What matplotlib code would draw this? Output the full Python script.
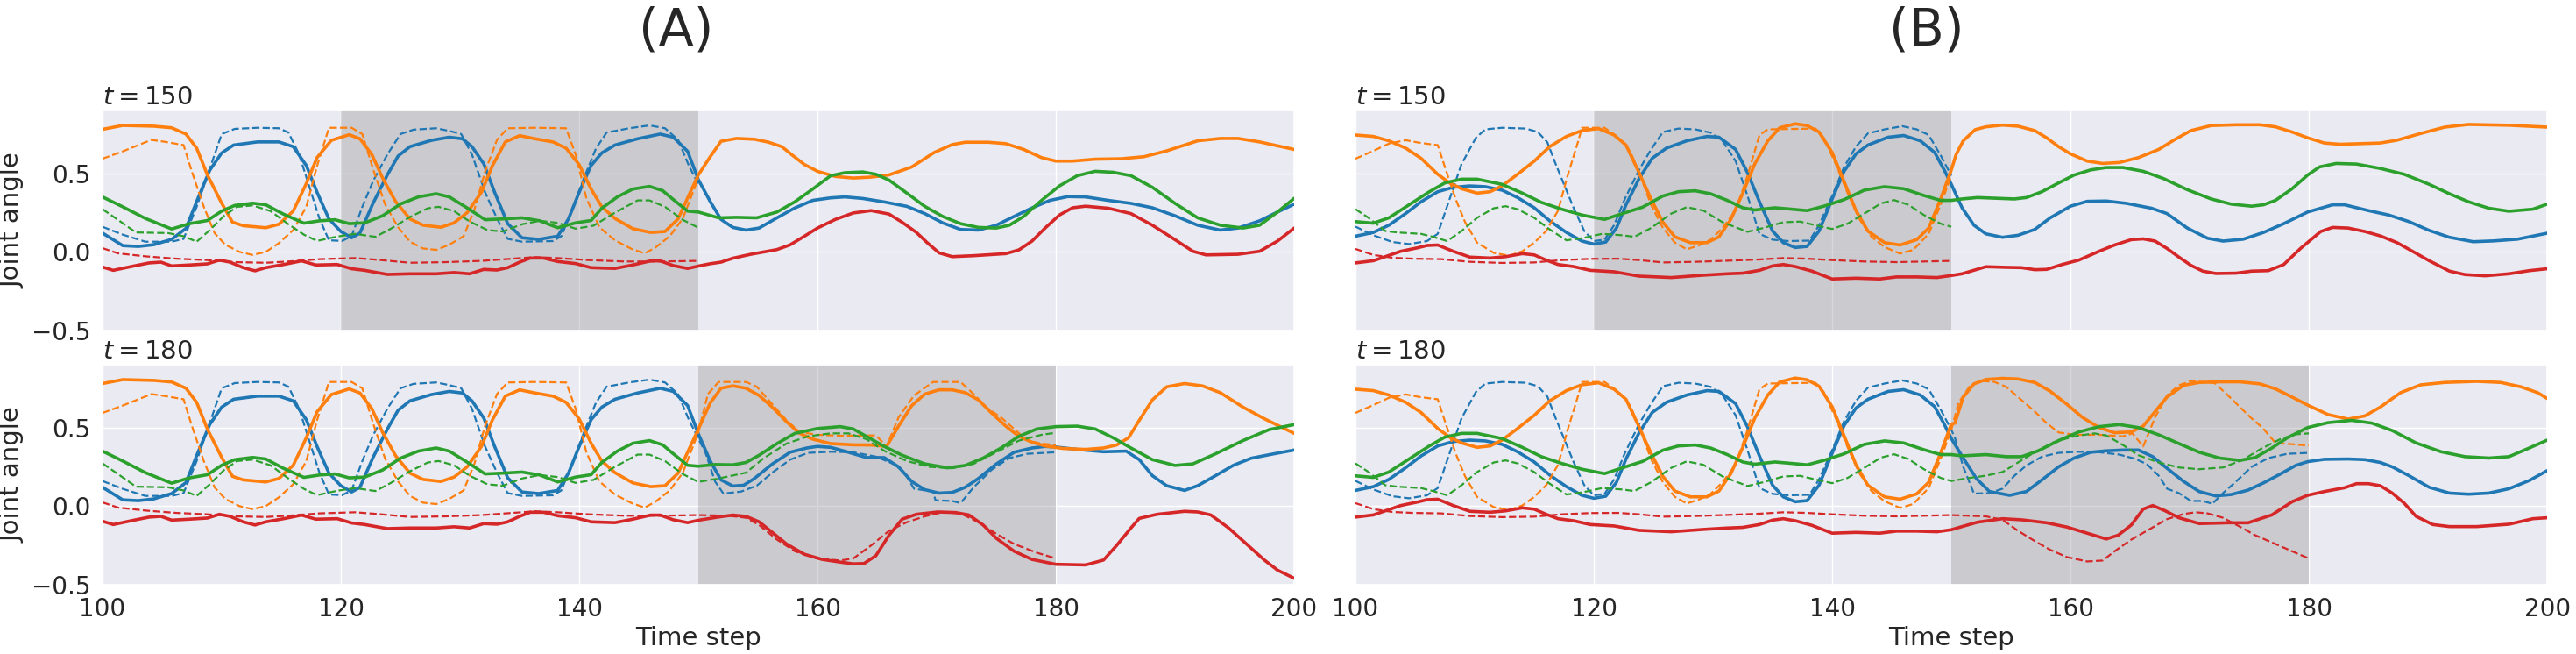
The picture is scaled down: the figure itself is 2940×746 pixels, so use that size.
import numpy as np
import matplotlib
matplotlib.use("Agg")
import matplotlib.pyplot as plt  # noqa: E402
import seaborn as sns  # noqa: E402

sns.set_theme(style="darkgrid")
plt.rcParams["font.family"] = ["DejaVu Sans"]

JOINT_COLORS = ["tab:blue", "tab:orange", "tab:green", "tab:red"]

# ---- panel A: shared observed history (100..150) ----
A_HIST_BLUE = [(100, 0.12), (101.7, 0.04), (103, 0.035), (104.3, 0.046), (105.8, 0.08), (107, 0.15), (108, 0.34),
               (109, 0.52), (110, 0.63), (111, 0.68), (113, 0.70), (114.8, 0.70), (116, 0.67), (117.1, 0.55),
               (118, 0.38), (119, 0.21), (120, 0.13), (120.9, 0.09), (121.6, 0.12), (122.7, 0.31), (123.9, 0.49),
               (124.8, 0.61), (125.8, 0.67), (127.6, 0.71), (129.1, 0.73), (130.2, 0.72), (131, 0.67), (132, 0.56),
               (132.9, 0.38), (134, 0.18), (135.2, 0.09), (136.6, 0.08), (138.2, 0.10), (139.1, 0.21), (140, 0.38),
               (141, 0.55), (141.9, 0.63), (143, 0.68), (144.9, 0.72), (146.8, 0.75), (147.9, 0.73), (149.1, 0.64),
               (150, 0.46)]
A_HIST_ORANGE = [(100, 0.78), (101.7, 0.805), (104.3, 0.80), (105.8, 0.79), (107, 0.75), (107.9, 0.66), (108.8, 0.49),
                 (110, 0.31), (110.9, 0.19), (111.8, 0.167), (113.7, 0.154), (114.8, 0.176), (116, 0.26),
                 (117.1, 0.435), (118, 0.60), (119.2, 0.71), (120.7, 0.746), (121.6, 0.72), (122.6, 0.62),
                 (123.5, 0.47), (124.6, 0.32), (125.8, 0.21), (126.9, 0.17), (128.4, 0.157), (129.5, 0.185),
                 (130.6, 0.25), (131.8, 0.38), (132.7, 0.546), (133.8, 0.70), (135, 0.74), (136.3, 0.72),
                 (137.8, 0.70), (138.9, 0.66), (140, 0.555), (141, 0.40), (141.9, 0.287), (143, 0.213),
                 (144.5, 0.148), (146, 0.124), (147.2, 0.13), (148.3, 0.21), (149.2, 0.36), (150, 0.49)]
A_HIST_GREEN = [(100, 0.35), (101.7, 0.287), (103.6, 0.213), (105.8, 0.146), (107.3, 0.18), (108.8, 0.20), (110, 0.26),
                (111.1, 0.296), (112.6, 0.31), (113.7, 0.30), (115.2, 0.24), (116.9, 0.183), (118.2, 0.198),
                (119.5, 0.205), (120.7, 0.18), (122, 0.185), (123.5, 0.23), (125, 0.305), (126.5, 0.35), (128, 0.37),
                (129.1, 0.35), (130.6, 0.28), (132.1, 0.205), (133.6, 0.21), (135.2, 0.217), (136.7, 0.198),
                (138.2, 0.154), (139.7, 0.185), (141, 0.20), (141.9, 0.278), (143.2, 0.35), (144.5, 0.40),
                (145.9, 0.417), (147, 0.39), (147.9, 0.333), (149.1, 0.26), (150, 0.254)]
A_HIST_RED = [(100, -0.096), (100.9, -0.117), (102.4, -0.093), (103.9, -0.07), (104.9, -0.065), (105.8, -0.089),
              (107.3, -0.083), (108.8, -0.076), (109.8, -0.052), (110.7, -0.065), (111.8, -0.10), (112.8, -0.12),
              (113.7, -0.10), (115.2, -0.08), (116.7, -0.057), (117.9, -0.083), (119.7, -0.08), (120.9, -0.107),
              (122, -0.117), (123.9, -0.143), (125.8, -0.139), (128, -0.139), (129.5, -0.131), (130.8, -0.139),
              (132, -0.111), (133.1, -0.115), (134, -0.10), (135, -0.065), (135.9, -0.039), (137, -0.039),
              (138.2, -0.061), (139.7, -0.074), (141, -0.10), (143, -0.105), (144.5, -0.083), (146, -0.057),
              (146.8, -0.057), (147.9, -0.087), (149.1, -0.105), (150, -0.09)]

# ---- panel A: target (dashed), 100..180 ----
A_TGT_BLUE = [(100, 0.16), (101.7, 0.11), (103.6, 0.065), (105.8, 0.065), (106.8, 0.083), (107.9, 0.287), (109, 0.53),
              (110, 0.75), (111.1, 0.783), (113, 0.79), (114.8, 0.787), (115.6, 0.76), (116.5, 0.62), (117.5, 0.38),
              (118.2, 0.213), (119, 0.074), (120.1, 0.07), (120.9, 0.10), (121.8, 0.287), (122.7, 0.45),
              (123.9, 0.62), (125, 0.75), (126.1, 0.778), (128, 0.787), (129.1, 0.77), (130.1, 0.75), (131, 0.62),
              (132.1, 0.38), (133.1, 0.213), (134, 0.083), (135.2, 0.065), (137.8, 0.069), (138.5, 0.10),
              (139.5, 0.287), (140.4, 0.47), (141.4, 0.657), (142.3, 0.76), (144.2, 0.787), (145.9, 0.805),
              (147.2, 0.787), (148.3, 0.713), (149.2, 0.55), (150, 0.43), (150.6, 0.34), (151.4, 0.157),
              (152.1, 0.08), (153.6, 0.093), (154.9, 0.13), (156.2, 0.213), (157.7, 0.296), (159.2, 0.339),
              (161.1, 0.346), (163, 0.343), (164.9, 0.315), (166.4, 0.268), (167.3, 0.213), (168.1, 0.111),
              (169.7, 0.093), (169.9, 0.037), (171.3, 0.033), (172, 0.019), (173.1, 0.12), (174.6, 0.231),
              (176.1, 0.306), (177.6, 0.333), (180, 0.343)]
A_TGT_ORANGE = [(100, 0.593), (101.7, 0.64), (104.1, 0.713), (105.3, 0.70), (106.8, 0.68), (107.5, 0.51),
                (108.5, 0.287), (109.4, 0.12), (110.3, 0.046), (111.5, 0.0), (112.6, -0.019), (113.7, 0.0),
                (114.8, 0.056), (116, 0.139), (117.1, 0.287), (118, 0.546), (119, 0.79), (120.9, 0.79), (121.8, 0.75),
                (122.7, 0.528), (123.7, 0.305), (124.8, 0.157), (125.8, 0.065), (126.9, 0.022), (128, 0.013),
                (129.1, 0.046), (130.3, 0.10), (131.2, 0.268), (132.1, 0.51), (133.1, 0.713), (134, 0.787),
                (136.3, 0.79), (138.9, 0.787), (139.7, 0.62), (140.6, 0.343), (141.7, 0.157), (143, 0.074),
                (144.4, 0.019), (145.5, -0.009), (146.4, 0.028), (147.6, 0.10), (148.7, 0.213), (150, 0.47),
                (150.8, 0.713), (151.7, 0.79), (154, 0.79), (154.9, 0.76), (156.1, 0.657), (157.4, 0.546),
                (158.5, 0.472), (160, 0.454), (161.9, 0.448), (164.9, 0.45), (165.8, 0.38), (166.8, 0.565),
                (168.1, 0.704), (169.7, 0.79), (172, 0.79), (173.1, 0.713), (174.3, 0.62), (175.4, 0.565),
                (176.5, 0.491), (177.6, 0.417), (178.8, 0.398), (180, 0.389)]
A_TGT_GREEN = [(100, 0.272), (101.3, 0.204), (102.8, 0.124), (105.5, 0.12), (106.8, 0.10), (107.9, 0.065),
               (109, 0.139), (110.2, 0.23), (111.3, 0.287), (112.6, 0.296), (114.1, 0.26), (115.6, 0.176),
               (116.9, 0.11), (118, 0.07), (119.7, 0.098), (121.2, 0.115), (122.9, 0.096), (124.2, 0.148),
               (125.8, 0.222), (127.3, 0.278), (128.2, 0.287), (129.5, 0.26), (130.8, 0.194), (132.3, 0.139),
               (133.6, 0.13), (135.2, 0.176), (136.7, 0.198), (138.2, 0.185), (139.7, 0.148), (141.2, 0.167),
               (143, 0.25), (144.9, 0.328), (145.9, 0.328), (147.2, 0.287), (148.7, 0.204), (150, 0.154),
               (151.7, 0.176), (154, 0.213), (155.5, 0.306), (157.4, 0.398), (159.2, 0.444), (161.1, 0.463),
               (162.6, 0.463), (164.1, 0.426), (165.6, 0.352), (167.5, 0.287), (169.4, 0.25), (171.3, 0.241),
               (173.1, 0.269), (175, 0.343), (176.9, 0.417), (178.8, 0.454), (180, 0.467)]
A_TGT_RED = [(100, 0.024), (101.3, -0.009), (103.6, -0.028), (106.2, -0.043), (108.8, -0.052), (111.1, -0.065),
             (113.7, -0.069), (115.6, -0.061), (118.2, -0.046), (121.2, -0.039), (123.1, -0.05), (125.8, -0.069),
             (128.8, -0.065), (131.8, -0.057), (134.4, -0.043), (136.3, -0.033), (138.2, -0.039), (140.8, -0.052),
             (143.8, -0.061), (146.8, -0.061), (150, -0.057), (152.5, -0.061), (154, -0.074), (155.1, -0.12),
             (156.6, -0.213), (158.1, -0.287), (160, -0.333), (161.9, -0.346), (163, -0.333), (164.5, -0.25),
             (166, -0.157), (167.5, -0.102), (169, -0.065), (170.5, -0.039), (172, -0.046), (173.5, -0.102),
             (175, -0.176), (176.5, -0.241), (178.4, -0.296), (180, -0.333)]

# ---- panel A: generated continuation after t=150 ----
A_P150_BLUE = [(151, 0.32), (151.9, 0.207), (152.9, 0.156), (154, 0.139), (155.1, 0.152), (156.6, 0.217),
               (158.1, 0.28), (159.6, 0.328), (161.1, 0.344), (162.3, 0.35), (163.8, 0.34), (165.6, 0.318),
               (167.5, 0.29), (169, 0.244), (170.5, 0.185), (172, 0.143), (173.5, 0.139), (175, 0.17), (176.5, 0.226),
               (178, 0.28), (179.5, 0.328), (181, 0.352), (182.5, 0.35), (184.4, 0.328), (186.3, 0.309),
               (188.1, 0.281), (190, 0.23), (191.9, 0.17), (193.8, 0.139), (195.3, 0.152), (197.1, 0.198),
               (198.6, 0.254), (200, 0.304)]
A_P150_ORANGE = [(151, 0.606), (151.9, 0.704), (153.2, 0.722), (154.7, 0.717), (155.9, 0.698), (157, 0.67),
                 (157.9, 0.615), (158.9, 0.556), (160, 0.513), (161.5, 0.48), (163, 0.47), (164.5, 0.476), (166, 0.49),
                 (167.9, 0.54), (169.8, 0.633), (171.3, 0.683), (172.4, 0.698), (174.3, 0.698), (175.8, 0.689),
                 (177.3, 0.652), (178.8, 0.60), (180, 0.578), (181.4, 0.578), (183.3, 0.59), (185.5, 0.593),
                 (187.4, 0.606), (189.3, 0.643), (191.9, 0.707), (193.8, 0.722), (195.3, 0.722), (197.1, 0.70),
                 (200, 0.652)]
A_P150_GREEN = [(151.7, 0.217), (153.2, 0.22), (154.9, 0.217), (156.6, 0.254), (158.1, 0.319), (159.6, 0.40),
                (161.1, 0.485), (162.3, 0.504), (163.8, 0.509), (164.9, 0.494), (166, 0.457), (167.5, 0.374),
                (169, 0.29), (170.5, 0.226), (172, 0.18), (173.5, 0.156), (175, 0.152), (176.1, 0.17), (177.3, 0.226),
                (178.8, 0.328), (180.3, 0.42), (181.8, 0.485), (183.3, 0.513), (184.8, 0.507), (186.3, 0.485),
                (188.1, 0.411), (190, 0.309), (191.9, 0.217), (193.8, 0.17), (195.7, 0.152), (197.1, 0.17),
                (198.6, 0.254), (200, 0.341)]
A_P150_RED = [(151, -0.075), (151.9, -0.065), (152.9, -0.04), (154.4, -0.015), (156.6, 0.015), (157.7, 0.045),
              (158.9, 0.10), (160, 0.152), (161.5, 0.207), (163, 0.248), (164.5, 0.263), (166, 0.241), (167.1, 0.189),
              (168.3, 0.124), (169.2, 0.059), (170.2, -0.006), (171.3, -0.03), (173.1, -0.024), (175.8, -0.011),
              (176.9, 0.013), (178, 0.069), (179.1, 0.152), (180.3, 0.235), (181.4, 0.281), (182.5, 0.291),
              (184.4, 0.278), (186.3, 0.244), (188.1, 0.17), (190, 0.078), (191.5, 0.004), (192.6, -0.019),
              (195.3, -0.015), (197.1, 0.004), (198.6, 0.069), (200, 0.152)]

# ---- panel A: observed to 180, generated after ----
A_P180_BLUE = [(151, 0.287), (151.9, 0.167), (152.9, 0.128), (153.8, 0.133), (154.7, 0.176), (156.2, 0.268),
               (157.7, 0.343), (159.1, 0.37), (160, 0.38), (161.1, 0.374), (162.6, 0.343), (164.1, 0.309),
               (165.6, 0.309), (166.8, 0.25), (167.9, 0.157), (169, 0.105), (170.2, 0.083), (171.3, 0.087),
               (172.4, 0.12), (173.5, 0.176), (175, 0.268), (176.5, 0.343), (178, 0.37), (179.1, 0.38), (180, 0.376),
               (181.8, 0.361), (184, 0.346), (185.9, 0.35), (187, 0.296), (188.1, 0.194), (189.3, 0.13),
               (190.8, 0.10), (191.9, 0.13), (193.4, 0.194), (194.9, 0.26), (196.4, 0.305), (198.3, 0.333),
               (200, 0.357)]
A_P180_ORANGE = [(151, 0.657), (151.9, 0.75), (152.9, 0.765), (154, 0.75), (155.1, 0.704), (156.2, 0.63),
                 (157.4, 0.537), (158.5, 0.463), (159.6, 0.426), (161.1, 0.398), (163, 0.39), (164.5, 0.389),
                 (165.8, 0.38), (166.8, 0.509), (167.9, 0.639), (169, 0.713), (170.2, 0.74), (171.3, 0.74),
                 (172.4, 0.722), (173.5, 0.676), (174.6, 0.593), (175.8, 0.509), (176.9, 0.444), (178, 0.407),
                 (179.1, 0.383), (180.6, 0.367), (182.5, 0.361), (184, 0.37), (185.1, 0.389), (186.1, 0.435),
                 (187, 0.546), (188.1, 0.676), (189.3, 0.759), (190.8, 0.78), (192.3, 0.765), (193.8, 0.722),
                 (195.7, 0.63), (197.5, 0.556), (200, 0.463)]
A_P180_GREEN = [(151.4, 0.265), (152.9, 0.263), (154, 0.278), (155.1, 0.324), (156.6, 0.398), (158.1, 0.463),
                (160, 0.494), (161.9, 0.506), (163, 0.491), (164.1, 0.444), (165.6, 0.38), (167.1, 0.324),
                (169, 0.269), (170.9, 0.244), (172.4, 0.259), (173.9, 0.306), (175.4, 0.37), (176.9, 0.444),
                (178.4, 0.491), (180, 0.506), (181.8, 0.509), (183.3, 0.491), (184.8, 0.435), (186.3, 0.37),
                (188.1, 0.296), (190, 0.259), (191.5, 0.269), (193.4, 0.333), (195.7, 0.417), (197.9, 0.487),
                (200, 0.519)]
A_P180_RED = [(151.7, -0.069), (152.9, -0.057), (154, -0.065), (155.1, -0.10), (156.2, -0.167), (157.4, -0.241),
              (158.9, -0.306), (160.4, -0.339), (161.9, -0.356), (163, -0.367), (163.9, -0.365), (164.9, -0.315),
              (166, -0.185), (167.1, -0.083), (168.3, -0.052), (170.1, -0.037), (171.6, -0.041), (172.7, -0.056),
              (173.9, -0.12), (175, -0.204), (176.5, -0.287), (178, -0.339), (180, -0.37), (182.5, -0.374),
              (184, -0.343), (185.1, -0.25), (186.3, -0.139), (187, -0.078), (188.5, -0.052), (190.8, -0.033),
              (191.9, -0.037), (193, -0.056), (194.5, -0.139), (196, -0.241), (197.5, -0.343), (198.6, -0.407),
              (200, -0.459)]

# ---- panel B: shared observed history (100..150) ----
B_HIST_BLUE = [(100, 0.10), (101.5, 0.124), (102.8, 0.17), (104.2, 0.244), (105.5, 0.319), (106.9, 0.383),
               (108.2, 0.411), (109.6, 0.42), (110.9, 0.415), (112.3, 0.393), (113.6, 0.346), (115, 0.281),
               (116.3, 0.198), (117.7, 0.124), (119, 0.069), (120, 0.05), (121, 0.063), (121.9, 0.152), (122.7, 0.30),
               (123.8, 0.467), (124.9, 0.596), (126.1, 0.661), (127.8, 0.707), (129.5, 0.735), (130.5, 0.73),
               (131.9, 0.652), (132.9, 0.504), (133.9, 0.319), (135, 0.133), (135.9, 0.059), (136.9, 0.028),
               (137.9, 0.035), (138.9, 0.133), (140, 0.337), (141, 0.513), (142, 0.624), (143, 0.68), (144.7, 0.73),
               (146, 0.741), (147.4, 0.707), (148.6, 0.633), (149.4, 0.522), (150, 0.43)]
B_HIST_ORANGE = [(100, 0.744), (101.5, 0.735), (102.8, 0.707), (104.2, 0.661), (105.5, 0.596), (106.9, 0.494),
                 (107.9, 0.439), (108.9, 0.402), (110.2, 0.374), (111.3, 0.383), (112.3, 0.42), (113.6, 0.494),
                 (115, 0.578), (116.3, 0.67), (117.7, 0.735), (119, 0.772), (120.4, 0.785), (121.7, 0.744),
                 (122.7, 0.68), (123.8, 0.504), (124.8, 0.337), (125.8, 0.189), (126.8, 0.096), (128.1, 0.059),
                 (129.5, 0.059), (130.5, 0.096), (131.5, 0.207), (132.5, 0.374), (133.5, 0.559), (134.6, 0.707),
                 (135.6, 0.79), (136.9, 0.815), (137.9, 0.804), (138.9, 0.763), (140, 0.633), (141, 0.448),
                 (142, 0.263), (143, 0.133), (144.4, 0.059), (145.7, 0.044), (147.1, 0.078), (148.1, 0.152),
                 (149.1, 0.337), (150, 0.522)]
B_HIST_GREEN = [(100, 0.193), (101.5, 0.183), (102.8, 0.217), (104.5, 0.30), (106.2, 0.383), (107.5, 0.439),
                (108.9, 0.463), (110.2, 0.463), (112.3, 0.43), (114, 0.374), (115.6, 0.315), (117.3, 0.272),
                (119, 0.235), (120.9, 0.207), (122.4, 0.244), (124.1, 0.285), (125.8, 0.356), (127.1, 0.383),
                (128.5, 0.389), (129.8, 0.37), (131.2, 0.328), (132.5, 0.281), (133.5, 0.267), (135.2, 0.281),
                (136.6, 0.272), (137.9, 0.263), (139.3, 0.291), (141, 0.333), (142.7, 0.393), (144.4, 0.415),
                (146, 0.402), (147.7, 0.359), (149.1, 0.328), (150, 0.328)]
B_HIST_RED = [(100, -0.07), (101.5, -0.056), (102.5, -0.03), (103.8, 0.004), (105.2, 0.026), (106, 0.041),
              (106.9, 0.044), (108.2, 0.004), (109.6, -0.033), (111.3, -0.039), (112.6, -0.03), (114, -0.011),
              (115, -0.019), (116, -0.052), (117, -0.08), (118.3, -0.093), (119.7, -0.117), (121.7, -0.126),
              (123.8, -0.154), (126.5, -0.163), (129.2, -0.148), (131.2, -0.139), (132.5, -0.135), (133.9, -0.117),
              (135, -0.089), (135.9, -0.08), (136.9, -0.093), (138.3, -0.122), (140, -0.172), (142, -0.167),
              (144, -0.172), (145.4, -0.159), (147.1, -0.159), (148.8, -0.163), (150, -0.15)]

# ---- panel B: target (dashed), 100..180 ----
B_TGT_BLUE = [(100, 0.161), (101.5, 0.106), (103.1, 0.063), (104.5, 0.05), (106, 0.069), (106.9, 0.115),
              (107.9, 0.337), (108.9, 0.559), (110.1, 0.726), (110.9, 0.78), (112.3, 0.79), (114.3, 0.785),
              (115.3, 0.763), (116.1, 0.698), (116.8, 0.559), (117.5, 0.43), (118.3, 0.281), (119.2, 0.133),
              (120, 0.069), (120.9, 0.078), (121.7, 0.17), (122.6, 0.337), (123.8, 0.522), (124.8, 0.652),
              (125.8, 0.763), (127.1, 0.785), (128.5, 0.78), (129.8, 0.759), (130.8, 0.707), (131.9, 0.578),
              (132.9, 0.356), (133.9, 0.115), (135, 0.078), (136.3, 0.069), (138.1, 0.072), (138.9, 0.17),
              (140, 0.356), (141, 0.541), (142, 0.67), (143, 0.754), (144.4, 0.78), (145.9, 0.80), (147.1, 0.78),
              (148.1, 0.744), (149.1, 0.615), (150, 0.485), (150.3, 0.435), (151, 0.25), (151.9, 0.08),
              (153.2, 0.083), (154.3, 0.111), (155.3, 0.194), (156.3, 0.259), (157.6, 0.315), (159, 0.339),
              (160.7, 0.346), (162.4, 0.343), (164.1, 0.328), (165.4, 0.302), (166.4, 0.268), (167.4, 0.194),
              (168.1, 0.111), (169.1, 0.083), (170.1, 0.033), (171.1, 0.033), (171.9, 0.015), (172.8, 0.083),
              (173.9, 0.157), (175.2, 0.25), (176.6, 0.306), (178.2, 0.333), (180, 0.339)]
B_TGT_ORANGE = [(100, 0.593), (101.5, 0.643), (102.8, 0.689), (104.2, 0.711), (105.5, 0.693), (106.9, 0.68),
                (107.5, 0.541), (108.4, 0.337), (109.2, 0.189), (110.2, 0.059), (111.6, -0.006), (112.9, -0.024),
                (114, 0.004), (115, 0.059), (116, 0.133), (117, 0.263), (117.8, 0.485), (118.7, 0.707), (119, 0.79),
                (120.9, 0.79), (122.1, 0.726), (123.1, 0.633), (123.9, 0.485), (124.8, 0.30), (125.8, 0.152),
                (126.8, 0.059), (127.8, 0.017), (128.8, 0.041), (129.8, 0.078), (130.8, 0.152), (131.9, 0.263),
                (132.9, 0.485), (133.9, 0.744), (134.6, 0.78), (138.6, 0.785), (139.3, 0.726), (140.3, 0.559),
                (141.3, 0.374), (142.3, 0.207), (143.3, 0.096), (144.4, 0.031), (145.7, -0.011), (146.8, 0.013),
                (148.1, 0.115), (149.1, 0.30), (150, 0.485), (150.6, 0.657), (151.6, 0.769), (152.6, 0.796),
                (153.6, 0.791), (154.6, 0.759), (155.6, 0.694), (157, 0.602), (158, 0.528), (159, 0.469),
                (160.3, 0.454), (162.4, 0.454), (164.4, 0.444), (165.2, 0.463), (166.1, 0.38), (167.1, 0.565),
                (168.1, 0.704), (169.1, 0.769), (170.1, 0.796), (172.1, 0.783), (173.1, 0.713), (174.1, 0.639),
                (175.1, 0.565), (176.1, 0.50), (177.2, 0.402), (178.6, 0.394), (180, 0.385)]
B_TGT_GREEN = [(100, 0.272), (101.1, 0.217), (102.5, 0.133), (103.5, 0.124), (105.5, 0.115), (106.5, 0.096),
               (107.7, 0.069), (108.9, 0.133), (110.2, 0.217), (111.6, 0.278), (112.6, 0.291), (113.6, 0.272),
               (115, 0.217), (116.3, 0.143), (117.7, 0.074), (119, 0.087), (120.7, 0.115), (122.4, 0.106),
               (123.4, 0.096), (124.8, 0.152), (126.5, 0.244), (127.8, 0.285), (129.2, 0.263), (130.8, 0.189),
               (132.9, 0.128), (134.2, 0.152), (135.9, 0.189), (137.3, 0.193), (138.6, 0.17), (140, 0.146),
               (141.3, 0.18), (142.7, 0.244), (144.1, 0.309), (145.2, 0.33), (146.4, 0.30), (147.7, 0.235),
               (149.1, 0.18), (150, 0.16), (151.2, 0.176), (152.9, 0.194), (154.3, 0.217), (155.6, 0.278),
               (157, 0.343), (158.6, 0.407), (160.3, 0.444), (162, 0.463), (163, 0.45), (164.4, 0.389),
               (165.7, 0.324), (167.4, 0.278), (169.1, 0.246), (170.8, 0.235), (172.8, 0.246), (174.5, 0.296),
               (175.9, 0.361), (177.6, 0.426), (178.9, 0.457), (180, 0.463)]
B_TGT_RED = [(100, 0.019), (101.5, -0.019), (103.1, -0.037), (104.8, -0.043), (107.2, -0.046), (109.6, -0.063),
             (112.3, -0.07), (115, -0.067), (117.3, -0.052), (119.7, -0.044), (122.1, -0.043), (123.8, -0.052),
             (125.8, -0.067), (128.5, -0.063), (131.2, -0.056), (133.9, -0.048), (135.9, -0.039), (137.9, -0.043),
             (140, -0.052), (142.7, -0.061), (145.4, -0.065), (147.7, -0.061), (150, -0.057), (152.9, -0.065),
             (154.3, -0.087), (155.6, -0.157), (157, -0.222), (158.3, -0.278), (159.7, -0.324), (161.4, -0.352),
             (162.7, -0.346), (163.7, -0.287), (165.1, -0.213), (166.4, -0.157), (168.1, -0.083), (169.5, -0.05),
             (170.5, -0.039), (171.5, -0.046), (172.8, -0.074), (174.2, -0.13), (175.5, -0.185), (176.9, -0.231),
             (178.6, -0.287), (180, -0.333)]

# ---- panel B: generated continuation after t=150 ----
B_P150_BLUE = [(150.9, 0.281), (151.9, 0.17), (152.9, 0.115), (154.3, 0.093), (155.6, 0.106), (157, 0.143),
               (158.3, 0.217), (160, 0.291), (161.4, 0.322), (163, 0.324), (164.7, 0.309), (166.8, 0.278),
               (168.1, 0.244), (169.8, 0.152), (171.5, 0.087), (172.8, 0.069), (174.5, 0.081), (176.2, 0.124),
               (177.9, 0.18), (179.9, 0.254), (182, 0.30), (183, 0.30), (185, 0.263), (186.7, 0.235), (188.4, 0.193),
               (190.1, 0.137), (191.8, 0.093), (193.8, 0.065), (195.5, 0.07), (197.5, 0.081), (200, 0.119)]
B_P150_ORANGE = [(150.4, 0.62), (151, 0.707), (152, 0.778), (152.9, 0.796), (154.3, 0.807), (155.6, 0.80),
                 (157, 0.772), (158, 0.726), (159, 0.67), (160, 0.624), (161.4, 0.578), (162.7, 0.563),
                 (164.1, 0.569), (165.7, 0.60), (167.4, 0.652), (168.8, 0.717), (170.1, 0.772), (171.8, 0.804),
                 (173.9, 0.809), (175.9, 0.809), (177.2, 0.796), (178.6, 0.763), (179.9, 0.726), (181.3, 0.693),
                 (182.6, 0.685), (186, 0.693), (187.4, 0.711), (189.4, 0.754), (191.4, 0.794), (193.4, 0.811),
                 (196.8, 0.806), (200, 0.794)]
B_P150_GREEN = [(150.9, 0.337), (152.2, 0.346), (153.9, 0.341), (155.3, 0.337), (156.3, 0.346), (157.6, 0.383),
                (159, 0.439), (160.3, 0.489), (161.7, 0.522), (163, 0.537), (164.4, 0.537), (166.1, 0.513),
                (167.8, 0.467), (169.8, 0.396), (171.8, 0.337), (173.5, 0.304), (175.2, 0.291), (176.2, 0.30),
                (177.2, 0.328), (178.6, 0.402), (179.9, 0.489), (180.9, 0.541), (182.3, 0.563), (184, 0.559),
                (186, 0.531), (188, 0.494), (190.1, 0.43), (191.8, 0.37), (193.4, 0.319), (195.1, 0.278),
                (196.8, 0.259), (198.8, 0.272), (200, 0.304)]
B_P150_RED = [(150.9, -0.139), (152.9, -0.094), (154.6, -0.098), (155.9, -0.10), (157, -0.113), (158, -0.111),
              (159.3, -0.08), (160.7, -0.052), (162.4, 0.004), (163.7, 0.044), (165.1, 0.078), (166.1, 0.083),
              (167.1, 0.069), (168.1, 0.022), (169.1, -0.033), (170.1, -0.085), (171.1, -0.122), (172.2, -0.137),
              (173.9, -0.135), (175.2, -0.122), (176.6, -0.119), (177.9, -0.08), (179.3, 0.022), (181, 0.13),
              (182, 0.156), (183.3, 0.152), (184.7, 0.13), (186, 0.102), (187.4, 0.059), (188.7, 0.004),
              (190.1, -0.056), (191.8, -0.122), (193.1, -0.144), (194.8, -0.152), (196.8, -0.139), (198.5, -0.119),
              (200, -0.107)]

# ---- panel B: observed to 180, generated after ----
B_P180_BLUE = [(151, 0.306), (152.1, 0.176), (153.2, 0.093), (154.9, 0.069), (156.3, 0.093), (157.6, 0.167),
               (159, 0.25), (160.3, 0.306), (161.7, 0.343), (163, 0.352), (164.4, 0.357), (165.7, 0.357),
               (166.9, 0.315), (168.1, 0.241), (169.5, 0.157), (170.8, 0.093), (172.2, 0.065), (173.5, 0.074),
               (174.9, 0.102), (176.2, 0.148), (177.6, 0.204), (178.9, 0.259), (179.9, 0.283), (181.3, 0.298),
               (183.3, 0.30), (184.7, 0.296), (186, 0.278), (187, 0.25), (188.4, 0.194), (190.1, 0.12),
               (191.8, 0.083), (193.4, 0.076), (195.1, 0.083), (196.8, 0.111), (198.5, 0.163), (200, 0.226)]
B_P180_ORANGE = [(150.3, 0.528), (151, 0.694), (151.9, 0.778), (152.9, 0.806), (154.3, 0.813), (155.6, 0.809),
                 (157, 0.787), (158.3, 0.731), (159.7, 0.648), (161, 0.565), (162.4, 0.50), (163.7, 0.467),
                 (165.1, 0.472), (166.1, 0.509), (167.1, 0.602), (168.1, 0.694), (169.5, 0.769), (170.8, 0.787),
                 (172.5, 0.791), (174.2, 0.791), (175.9, 0.778), (177.2, 0.746), (178.6, 0.694), (179.9, 0.643),
                 (181.6, 0.583), (183.3, 0.554), (184.7, 0.574), (186, 0.63), (187.7, 0.722), (189.4, 0.772),
                 (191.4, 0.787), (194.1, 0.794), (196.1, 0.787), (197.8, 0.759), (199.2, 0.722), (200, 0.685)]
B_P180_GREEN = [(150.9, 0.32), (152.9, 0.328), (154.6, 0.315), (155.9, 0.315), (157.3, 0.352), (159, 0.417),
                (160.7, 0.472), (162.4, 0.506), (164.1, 0.519), (165.7, 0.50), (167.4, 0.454), (169.1, 0.398),
                (170.8, 0.343), (172.5, 0.306), (174.2, 0.291), (175.5, 0.309), (176.9, 0.37), (178.2, 0.435),
                (179.9, 0.50), (181.6, 0.531), (183.6, 0.546), (185.3, 0.528), (187, 0.481), (189, 0.402),
                (191.1, 0.346), (193.1, 0.315), (195.1, 0.306), (196.8, 0.315), (198.5, 0.37), (200, 0.42)]
B_P180_RED = [(150.9, -0.13), (152.2, -0.102), (154.3, -0.08), (155.9, -0.087), (158, -0.106), (159.7, -0.133),
              (161.4, -0.172), (163, -0.209), (164, -0.185), (165.1, -0.12), (166.1, -0.019), (166.9, 0.004),
              (167.9, -0.028), (169.1, -0.074), (170.8, -0.111), (173.2, -0.106), (174.9, -0.106), (176.9, -0.056),
              (178.6, 0.028), (179.9, 0.069), (181.3, 0.093), (183, 0.117), (184, 0.143), (185, 0.143), (186, 0.13),
              (187, 0.083), (188, 0.019), (189, -0.065), (190.4, -0.117), (191.8, -0.13), (194.1, -0.13),
              (196.8, -0.115), (198.8, -0.08), (200, -0.074)]

PANEL_LABELS = ["(A)", "(B)"]
CUT_TIMES = [150, 180]
WINDOW = 30

A_HIST = [A_HIST_BLUE, A_HIST_ORANGE, A_HIST_GREEN, A_HIST_RED]
A_TGT = [A_TGT_BLUE, A_TGT_ORANGE, A_TGT_GREEN, A_TGT_RED]
A_PRED = {150: [A_P150_BLUE, A_P150_ORANGE, A_P150_GREEN, A_P150_RED],
          180: [A_P180_BLUE, A_P180_ORANGE, A_P180_GREEN, A_P180_RED]}
B_HIST = [B_HIST_BLUE, B_HIST_ORANGE, B_HIST_GREEN, B_HIST_RED]
B_TGT = [B_TGT_BLUE, B_TGT_ORANGE, B_TGT_GREEN, B_TGT_RED]
B_PRED = {150: [B_P150_BLUE, B_P150_ORANGE, B_P150_GREEN, B_P150_RED],
          180: [B_P180_BLUE, B_P180_ORANGE, B_P180_GREEN, B_P180_RED]}


def draw_panel(ax, hist, target, pred, t_cut):
    for color, h, tg, p in zip(JOINT_COLORS, hist, target, pred):
        solid = np.array(h + p)
        ax.plot(solid[:, 0], solid[:, 1], color=color, lw=2.6, zorder=3)
        tg = np.array(tg)
        keep = tg[:, 0] <= t_cut
        ax.plot(tg[keep, 0], tg[keep, 1], "--", color=color, lw=1.6, zorder=3)
    ax.axvspan(t_cut - WINDOW, t_cut, color="gray", alpha=0.3, lw=0, zorder=1)
    ax.set_xlim(100, 200)
    ax.set_ylim(-0.5, 0.9)
    ax.set_xticks(range(100, 201, 20))
    ax.set_yticks([-0.5, 0.0, 0.5])
    ax.tick_params(labelsize=20, length=0, pad=10)
    ax.set_title(rf"$t={t_cut}$", loc="left", fontsize=21, pad=5)


def main():
    fig = plt.figure(figsize=(29.4, 7.46), dpi=100)
    lefts = [0.0398, 0.5262]
    width = 0.4626
    bottoms = [0.4946, 0.1059]
    height = 0.3365
    panels = [(A_HIST, A_TGT, A_PRED), (B_HIST, B_TGT, B_PRED)]

    for col, (hist, tgt, pred) in enumerate(panels):
        for row, t_cut in enumerate(CUT_TIMES):
            ax = fig.add_axes([lefts[col], bottoms[row], width, height])
            draw_panel(ax, hist, tgt, pred[t_cut], t_cut)
            if row == 0:
                ax.set_xticklabels([])
            else:
                ax.set_xlabel("Time step", fontsize=21, labelpad=4)
            if col == 0:
                ax.set_ylabel("Joint angle", fontsize=21, labelpad=5)
            else:
                ax.set_yticklabels([])

    for x, lab in zip([0.2626, 0.748], PANEL_LABELS):
        fig.text(x, 0.953, lab, fontsize=42, ha="center", va="center")

    fig.savefig("out.png", dpi=100)
    plt.close(fig)


if __name__ == "__main__":
    main()
